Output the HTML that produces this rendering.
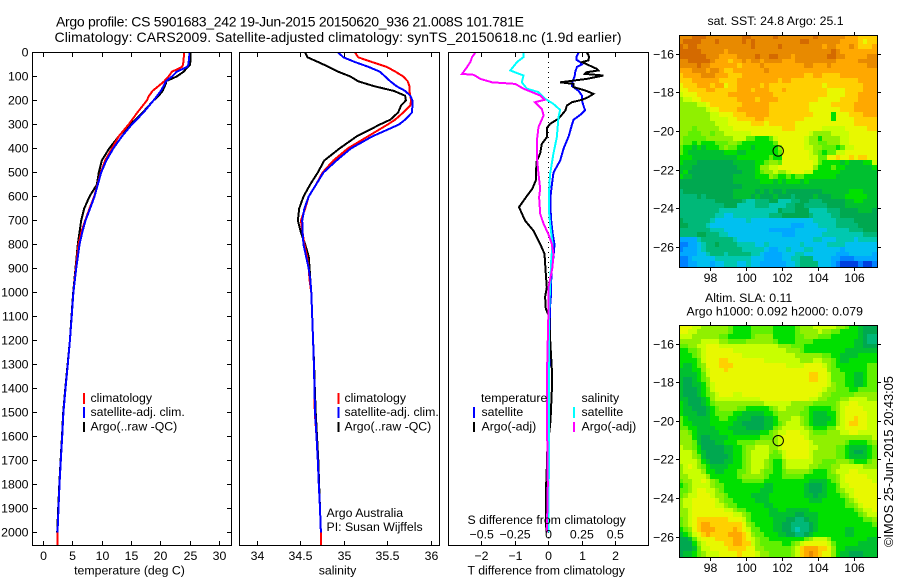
<!DOCTYPE html>
<html lang="en">
<head>
<meta charset="utf-8">
<title>Argo profile CS 5901683_242</title>
<style>
html,body{margin:0;padding:0;background:#fff;}
svg{display:block;}
text{font-family:"Liberation Sans",sans-serif;font-size:12.3px;fill:#000;}
.title{font-size:14px;}
.stamp{font-size:12.8px;}
</style>
</head>
<body>
<svg id="chart" xmlns="http://www.w3.org/2000/svg" width="900" height="580" viewBox="0 0 900 580">
  <rect x="0" y="0" width="900" height="580" fill="#fff"/>
  <text class="title" x="56" y="26.5" textLength="468" lengthAdjust="spacing">Argo profile: CS 5901683_242 19-Jun-2015 20150620_936 21.008S 101.781E</text>
  <text class="title" x="54.5" y="42" textLength="567" lengthAdjust="spacing">Climatology: CARS2009. Satellite-adjusted climatology: synTS_20150618.nc (1.9d earlier)</text>

  <g id="layer-maps"></g>
  <g id="layer-series"></g>
  <g id="layer-axes"></g>

  <g>
    <rect x="83" y="393" width="2" height="11" fill="#f00"/>
    <rect x="83" y="407" width="2" height="11" fill="#00f"/>
    <rect x="83" y="422" width="2" height="10" fill="#000"/>
    <text x="90.5" y="402">climatology</text>
    <text x="90.5" y="416">satellite-adj. clim.</text>
    <text x="90.5" y="430.5">Argo(..raw -QC)</text>
  </g>
  <g>
    <rect x="337.5" y="393" width="2" height="11" fill="#f00"/>
    <rect x="337.5" y="407" width="2" height="11" fill="#00f"/>
    <rect x="337.5" y="422" width="2" height="10" fill="#000"/>
    <text x="344.5" y="402">climatology</text>
    <text x="344.5" y="416">satellite-adj. clim.</text>
    <text x="344.5" y="430.5">Argo(..raw -QC)</text>
    <text x="326.5" y="517">Argo Australia</text>
    <text x="326.5" y="531">PI: Susan Wijffels</text>
  </g>
  <g>
    <text x="481" y="402">temperature</text>
    <text x="581.5" y="402">salinity</text>
    <rect x="473" y="407" width="2" height="11" fill="#00f"/>
    <rect x="473" y="422" width="2" height="10" fill="#000"/>
    <rect x="573" y="407" width="2" height="11" fill="#0ff"/>
    <rect x="573" y="422" width="2" height="10" fill="#f0f"/>
    <text x="481.5" y="416">satellite</text>
    <text x="481.5" y="430.5">Argo(-adj)</text>
    <text x="581.5" y="416">satellite</text>
    <text x="581.5" y="430.5">Argo(-adj)</text>
    <text x="467.5" y="524">S difference from climatology</text>
  </g>

  <text x="129.5" y="574.5" text-anchor="middle">temperature (deg C)</text>
  <text x="337.5" y="574.5" text-anchor="middle">salinity</text>
  <text x="467.5" y="574.5">T difference from climatology</text>

  <text x="707.5" y="25">sat. SST: 24.8 Argo: 25.1</text>
  <text x="705" y="302">Altim. SLA: 0.11</text>
  <text x="686.5" y="315.5">Argo h1000: 0.092 h2000: 0.079</text>
  <text class="stamp" transform="translate(893,547) rotate(-90)">©IMOS 25-Jun-2015 20:43:05</text>
</svg>

<script>
/* ---------- profile data ---------- */
const depthTicks = [0,100,200,300,400,500,600,700,800,900,1000,1100,1200,1300,1400,1500,1600,1700,1800,1900,2000];
const tempTicks = [0,5,10,15,20,25,30];
const salTicks = [34,34.5,35,35.5,36];
const salTickLabels = ['34','34.5','35','35.5','36'];
const diffTTicks = [-2,-1,0,1,2];
const diffTTickLabels = ['\u22122','\u22121','0','1','2'];
const diffSTicks = [-0.5,-0.25,0,0.25,0.5];
const diffSTickLabels = ['\u22120.5','\u22120.25','0','0.25','0.5'];
const lonTicks = [98,100,102,104,106];
const latTicks = [-16,-18,-20,-22,-24,-26];
const latTickLabels = ['\u221216','\u221218','\u221220','\u221222','\u221224','\u221226'];

const tempDepths = [0,50,60,80,100,120,130,160,180,200,250,300,350,400,450,500,550,600,650,700,750,800,900,1000,1100,1200,1300,1400,1500,1600,1700,1800,1900,2000,2054];
const tempClim = [23.98,23.8,23.6,21.9,21.3,20.57,20.1,18.6,18.0,17.6,16.0,14.5,12.8,11.65,10.5,9.77,9.2,8.64,7.84,7.1,6.42,5.97,5.5,5.1,4.8,4.5,4.15,3.75,3.4,3.18,2.95,2.73,2.56,2.39,2.39];
const tempSat = [24.9,24.7,24.5,22.7,21.9,20.85,20.7,20.0,19.4,18.75,17.05,15.05,13.35,11.9,10.7,9.83,9.26,8.7,7.95,7.16,6.6,6.14,5.57,5.1,4.8,4.5,4.15,3.75,3.4,3.18,2.95,2.73,2.56,2.39];
const tempArgo = [25.05,25.0,24.6,23.9,22.7,20.85,20.85,20.3,19.66,18.75,16.9,14.8,12.8,11.2,9.94,9.43,9.1,7.84,6.93,6.42,6.14,5.85,5.45,5.06,4.78,4.5,4.1,3.72,3.35,3.15,2.92,2.7,2.5,2.33];

const salDepths = [0,20,40,60,80,100,120,140,160,180,200,220,250,280,300,350,400,450,500,550,600,650,700,750,800,850,900,950,1000,1100,1200,1300,1400,1500,1600,1700,1800,1900,2000,2054];
const salClim = [35.125,35.16,35.32,35.49,35.59,35.68,35.73,35.75,35.75,35.76,35.77,35.76,35.68,35.585,35.5,35.27,35.04,34.875,34.75,34.675,34.59,34.55,34.5,34.52,34.54,34.57,34.59,34.6,34.62,34.63,34.64,34.65,34.657,34.66,34.68,34.695,34.706,34.72,34.73,34.73];
const salSat = [34.93,34.99,35.125,35.28,35.41,35.47,35.53,35.6,35.7,35.76,35.785,35.785,35.78,35.7,35.63,35.32,35.075,34.91,34.76,34.675,34.59,34.54,34.515,34.52,34.53,34.56,34.59,34.61,34.62,34.63,34.64,34.65,34.657,34.664,34.68,34.695,34.706,34.72,34.73];
const salArgo = [34.55,34.576,34.7,34.82,34.93,35.07,35.16,35.34,35.57,35.7,35.71,35.655,35.62,35.53,35.41,35.14,34.945,34.77,34.695,34.607,34.53,34.48,34.465,34.5,34.55,34.59,34.6,34.61,34.62,34.63,34.64,34.652,34.66,34.67,34.685,34.7,34.71,34.72,34.73];

const diffTSatDepths = [0,20,30,40,50,60,80,100,120,140,160,180,200,220,240,260,280,300,350,400,450,500,550,600,650,700,750,800,850,900,950,1000,1050,1100,1300,1400,1500,1600,1700,1800,1900,2000];
const diffTSat = [0.9,0.83,0.83,0.945,1.0,0.85,0.8,0.78,0.72,0.7,0.9,1.0,1.0,1.04,1.09,0.945,0.75,0.7,0.6,0.45,0.35,0.15,0.1,0.06,0.06,0.08,0.12,0.18,0.15,0.1,0.08,0.08,0.05,0.05,0.03,-0.05,-0.03,0,0,0,0,0];
const diffTArgoDepths = [0,10,20,33,40,68,75,82,89,96,110,124,131,144,158,172,186,197,207,221,242,276,297,314,353,381,422,450,506,533,567,589,644,700,742,797,839,922,978,1019,1068,1100,1200,1325,1400,1535,1680,1730,1840,1940,2000];
const diffTArgo = [1.14,1.19,1.21,1.19,1.0,1.44,1.49,1.14,1.09,1.64,1.14,0.35,0.75,0.75,1.09,1.34,1.19,1.0,0.7,0.55,0.5,0.3,0.05,-0.05,-0.05,-0.2,-0.25,-0.35,-0.38,-0.38,-0.48,-0.6,-0.88,-0.7,-0.45,-0.25,-0.12,-0.08,-0.05,-0.1,-0.08,0.02,0.05,0.1,0.1,0.06,-0.05,-0.05,-0.08,-0.08,-0.06];
const diffSSatDepths = [0,19,40,75,96,124,151,165,193,214,239,269,353,422,506,568,672,714,797,867,978,1068,1400,2000];
const diffSSat = [-0.187,-0.187,-0.236,-0.286,-0.187,-0.2,-0.162,-0.075,-0.025,0.037,0.087,0.075,0.062,0.037,0.012,0.005,0.005,0.012,0.03,0.02,0.012,0.005,0.005,0];
const diffSArgoDepths = [0,19,40,61,89,93,110,124,131,151,179,197,207,235,262,311,367,436,506,568,603,672,714,758,797,839,894,978,1068,1300,1400,1600,1800,2000];
const diffSArgo = [-0.547,-0.572,-0.585,-0.61,-0.647,-0.56,-0.51,-0.423,-0.249,-0.187,-0.062,-0.03,-0.1,-0.05,-0.037,-0.075,-0.087,-0.087,-0.075,-0.062,-0.07,-0.062,-0.037,0,0.025,0.037,0.03,0,0,-0.01,-0.012,-0.01,-0.005,-0.012];

/* ---------- map data: colour-scale levels per quarter-degree cell, north to south ---------- */
const levelColors = ['#0040e0','#0080ff','#00a8ff','#00c0f0','#00c8b0','#00b878','#00a850','#00c030','#00e000','#60f000','#90f000','#c8ff00','#e8f800','#ffd000','#ffa800','#e88a00','#d46a00'];
const mapLonStart = 96.27;
const mapLatStart = -15;
const mapCellDeg = 0.25;
const sstCells = [
[15,15,15,16,16,16,15,15,15,15,15,15,15,15,16,16,15,15,15,15,15,16,15,15,15,15,15,15,15,15,16,15,15,15,15,15,15,14,14,14,13,13,13,13],
[15,16,16,16,16,15,15,15,16,15,15,15,15,15,16,15,16,15,15,15,15,15,15,15,15,15,15,16,16,15,15,15,15,15,15,15,14,14,14,14,13,12,13,13],
[16,15,16,16,15,15,15,15,15,15,15,15,15,15,15,15,16,15,15,15,15,15,16,15,15,15,15,15,15,15,15,15,14,15,15,14,14,14,15,14,13,13,13,14],
[16,16,16,16,16,15,15,15,15,15,14,15,15,15,15,15,15,15,15,15,15,15,15,15,15,15,15,15,15,15,15,15,15,15,16,15,14,14,14,14,14,14,14,14],
[16,16,16,16,16,16,15,15,15,14,14,14,14,15,15,15,15,16,15,15,16,16,15,15,15,14,15,15,15,15,15,15,15,16,16,15,15,14,14,14,14,14,15,15],
[15,15,16,16,16,16,16,15,14,14,14,13,14,14,15,14,15,15,14,15,15,15,15,14,14,14,15,15,15,15,15,15,15,15,15,14,14,14,14,14,15,15,15,15],
[15,15,15,15,16,15,15,14,14,14,14,14,14,13,14,14,14,14,15,14,14,14,14,14,14,14,14,14,15,15,14,14,14,15,14,14,14,14,14,14,14,14,15,15],
[14,14,14,15,15,15,14,15,15,14,13,13,14,14,14,14,14,14,14,15,14,14,14,14,14,14,14,14,14,14,14,14,14,14,14,14,14,14,14,14,14,14,14,14],
[13,14,14,14,14,15,15,15,14,14,14,13,13,13,14,14,14,14,14,14,14,14,14,14,14,14,14,14,13,13,14,14,13,13,13,13,14,14,14,14,14,14,14,14],
[13,13,13,14,14,14,14,14,14,13,13,13,13,14,14,14,14,14,14,14,14,14,13,14,14,13,13,13,13,13,13,13,13,13,13,13,13,13,13,13,14,14,14,14],
[12,13,13,13,14,14,14,13,14,14,12,13,13,14,14,14,14,14,13,14,13,13,13,13,13,13,13,13,13,13,13,13,12,13,13,13,13,13,13,13,13,14,14,14],
[12,12,13,13,13,13,14,14,13,13,13,13,13,14,14,14,13,14,14,14,13,13,13,14,13,13,13,13,13,13,13,13,13,12,12,12,12,13,13,13,13,14,14,14],
[11,12,12,12,13,13,13,13,13,13,13,14,14,14,14,14,14,14,14,14,14,13,13,13,13,13,13,13,13,13,13,13,13,12,12,12,12,13,13,13,14,14,14,14],
[10,11,11,12,12,13,13,13,13,13,13,13,13,14,14,14,14,13,14,14,14,14,13,13,13,13,13,13,13,13,13,12,12,12,12,12,13,13,13,13,14,14,14,14],
[10,10,10,10,11,11,12,13,13,13,13,13,13,13,14,14,14,14,14,14,13,13,13,13,13,13,13,13,13,12,12,12,12,12,13,13,13,13,13,14,14,14,14,14],
[10,10,10,10,10,10,11,12,12,13,13,13,13,14,14,14,14,14,14,14,13,13,13,13,13,13,13,13,13,12,12,12,12,12,12,12,13,13,13,14,14,14,14,14],
[10,10,10,10,10,10,10,11,11,12,12,12,13,13,13,14,14,14,14,14,13,13,13,13,13,13,13,13,13,13,12,12,12,12,8,12,12,12,13,13,13,14,14,14],
[10,10,10,10,10,10,10,11,11,11,11,12,12,13,13,13,13,14,14,13,13,13,13,13,13,13,13,13,12,12,12,12,12,12,8,12,12,12,12,13,13,13,13,13],
[10,10,10,10,10,10,10,10,11,11,11,12,12,12,12,12,13,13,13,12,13,13,13,13,13,13,12,12,12,12,12,12,12,12,12,12,12,12,12,13,13,13,13,13],
[10,10,10,9,10,10,10,10,10,11,11,11,12,12,12,12,12,12,12,12,12,12,12,13,13,13,12,12,12,12,12,12,11,11,11,11,11,12,12,12,12,12,13,13],
[10,10,9,9,9,10,10,9,10,10,11,11,11,11,11,11,12,12,12,12,12,12,12,12,12,12,12,12,12,11,10,10,10,10,11,11,11,11,12,12,12,12,12,12],
[10,9,9,9,9,9,10,10,10,10,10,10,11,11,11,9,9,8,8,8,9,11,12,12,12,12,12,12,11,10,10,8,10,10,10,10,11,11,12,12,12,12,12,12],
[10,9,9,8,9,8,8,8,9,9,9,10,10,9,8,8,8,8,8,8,8,9,12,12,12,12,12,12,11,10,10,9,9,10,10,10,11,11,12,12,12,12,12,12],
[9,8,8,7,8,7,8,8,8,9,10,9,9,8,8,8,7,8,8,8,8,8,10,12,12,12,12,12,11,11,10,10,9,9,9,8,9,11,11,12,12,12,12,12],
[9,8,7,7,7,7,7,7,7,7,8,8,8,7,7,8,8,8,8,8,8,8,9,12,12,12,12,12,12,11,10,9,8,9,9,11,11,12,12,12,12,12,12,12],
[8,8,8,7,7,7,7,7,7,7,7,7,7,8,8,8,8,8,8,8,9,8,8,12,12,12,12,12,12,11,11,9,9,12,12,13,12,12,13,12,13,13,12,12],
[8,7,7,7,6,6,6,6,6,6,6,6,7,7,7,7,7,8,8,9,10,10,9,12,12,12,12,12,12,12,11,9,8,8,8,8,7,8,7,7,7,8,8,11],
[7,7,7,6,6,6,6,6,6,6,6,6,6,7,7,7,7,8,10,10,11,11,12,12,12,12,12,12,12,12,10,8,8,8,9,8,8,7,7,7,7,7,7,8],
[7,8,6,6,6,6,6,6,6,6,6,6,6,6,7,7,7,8,9,10,10,11,10,10,11,12,12,12,11,11,8,8,8,8,8,8,7,7,7,7,7,7,7,7],
[8,7,7,6,6,6,6,6,6,6,6,6,7,7,7,7,7,8,8,8,10,9,8,8,9,8,9,9,8,8,8,8,8,8,8,7,7,7,7,7,7,7,7,7],
[6,6,6,6,6,6,6,6,6,6,6,6,7,7,7,7,7,7,8,8,8,7,8,7,8,8,8,7,8,7,7,7,7,7,7,7,7,7,7,7,7,7,7,7],
[6,6,6,6,6,6,6,6,6,6,6,6,6,6,7,7,7,7,7,7,7,7,7,7,7,7,7,7,7,7,7,7,7,7,7,7,7,7,7,7,7,7,7,7],
[5,6,6,6,6,6,6,6,6,6,6,6,7,7,7,7,7,6,7,6,7,6,6,7,6,6,6,6,6,6,6,6,7,7,7,7,7,7,8,8,8,7,7,7],
[5,5,5,5,6,5,6,6,6,6,6,6,7,7,7,7,6,7,6,6,6,7,6,6,6,5,6,6,6,6,7,6,6,6,7,7,7,8,8,8,8,8,7,7],
[5,5,5,5,5,5,5,5,6,6,6,6,6,6,5,4,4,5,5,5,6,6,4,4,4,5,5,6,6,5,5,5,6,6,6,6,6,7,7,8,8,7,7,7],
[5,5,5,5,5,5,5,5,5,5,6,6,6,4,4,4,4,5,5,5,4,4,4,4,5,5,6,6,5,5,5,5,5,6,6,6,6,7,7,7,7,7,7,7],
[5,5,5,5,5,5,5,5,5,4,4,4,4,4,4,4,4,4,4,4,4,4,6,5,5,5,6,6,6,4,4,4,4,5,5,5,6,6,6,6,7,7,7,6],
[5,5,5,5,5,5,5,5,4,4,3,3,4,4,4,4,4,4,4,4,5,5,5,6,6,6,6,6,6,5,4,4,4,4,5,5,6,6,6,6,6,6,6,6],
[6,5,5,5,5,5,5,4,3,3,3,3,3,3,3,4,3,3,3,3,3,3,3,3,3,3,3,3,3,3,4,4,4,4,4,5,5,5,5,6,6,6,6,6],
[6,6,5,5,5,5,4,3,3,3,3,3,3,3,3,3,3,3,3,3,3,3,3,3,3,2,2,2,3,3,3,4,4,4,4,5,5,5,5,5,6,6,6,6],
[5,5,5,5,5,5,5,4,4,4,3,3,3,3,3,3,3,3,3,3,2,2,2,2,2,2,3,3,3,3,3,3,3,4,4,4,4,4,5,5,5,6,6,6],
[5,5,5,5,6,6,5,5,5,4,4,3,3,3,3,3,3,3,3,3,3,3,3,2,2,2,3,3,3,3,3,3,4,4,4,4,4,4,4,4,4,5,5,5],
[2,2,2,2,4,5,5,5,5,5,5,5,4,3,3,3,3,3,3,3,3,3,3,3,3,3,3,3,3,3,4,4,3,3,3,4,4,4,4,3,4,4,4,4],
[1,1,2,2,3,4,5,5,6,5,5,5,5,4,4,4,4,3,3,4,3,3,3,3,3,3,3,4,3,3,3,3,3,4,4,4,4,3,3,3,3,3,3,3],
[1,2,2,2,3,4,5,5,5,5,5,5,5,5,4,4,4,4,4,3,2,2,3,3,4,3,3,3,4,4,3,3,3,3,3,3,2,3,3,3,3,3,3,3],
[2,2,2,2,3,3,4,5,5,5,4,5,5,5,5,5,4,4,3,2,2,2,2,3,3,3,4,4,3,3,3,3,3,3,3,2,2,2,3,3,3,3,3,2],
[1,1,2,3,3,3,3,3,4,4,4,4,4,4,4,4,3,3,3,2,2,2,2,3,3,4,4,5,5,5,3,3,3,3,2,2,1,1,1,2,2,2,2,2],
[1,1,2,2,3,3,3,2,3,3,4,4,4,3,3,4,3,3,2,2,2,2,2,2,3,3,4,5,5,5,5,3,3,3,2,1,0,0,0,0,1,0,0,1]
];
const slaCells = [
[12,12,12,11,11,10,10,10,10,10,10,9,8,8,8,8,9,9,9,9,9,8,8,8,8,8,9,10,10,10,11,11,11,11,11,10,10,9,8,8,7,6,6,6],
[12,12,11,11,10,10,10,10,10,10,10,9,8,8,8,8,9,9,9,9,9,8,8,8,8,8,9,10,10,10,10,11,10,10,9,9,8,8,8,8,7,6,6,6],
[11,11,11,10,10,10,10,10,10,9,9,8,8,8,8,8,9,10,10,10,10,8,8,8,8,8,9,9,10,10,10,9,9,9,8,8,8,8,8,8,7,6,5,5],
[10,10,10,10,10,11,11,11,11,10,10,9,9,9,9,10,10,10,10,10,10,9,8,8,8,8,9,9,9,9,8,8,8,8,8,8,8,8,8,7,7,6,5,5],
[9,9,10,10,11,11,12,12,12,11,11,11,11,11,11,11,11,11,11,11,11,11,10,10,10,9,9,9,8,8,8,8,8,8,8,8,8,8,8,7,7,6,6,6],
[8,8,9,9,10,11,12,12,12,12,12,12,11,11,11,11,11,11,11,11,11,11,11,11,10,10,10,9,8,8,8,8,8,8,8,8,8,7,7,7,7,7,7,7],
[8,8,8,9,10,11,12,12,12,12,12,12,12,12,11,11,11,11,11,11,11,11,11,11,11,11,10,10,10,10,10,10,9,9,8,8,7,7,7,7,8,8,8,8],
[8,8,8,8,9,11,12,12,12,13,13,12,12,12,12,12,12,12,12,11,11,11,11,11,11,11,11,10,10,10,11,11,10,10,9,8,7,7,8,8,8,8,8,8],
[8,7,7,8,9,10,12,12,12,13,13,13,12,12,12,12,12,12,12,12,12,12,12,12,11,11,11,11,12,12,12,12,11,10,9,8,8,8,8,8,8,8,9,9],
[7,7,7,8,8,10,11,12,12,12,13,12,12,12,12,12,12,12,12,12,12,12,12,12,12,12,12,12,12,12,12,12,12,10,9,9,8,8,8,8,8,8,9,9],
[7,7,7,7,8,9,11,12,12,12,12,12,12,12,12,12,12,12,12,12,12,12,12,12,12,12,12,12,12,13,13,12,12,11,9,9,9,8,8,7,7,8,9,9],
[7,6,6,7,8,9,10,12,12,12,12,12,12,12,12,12,12,12,12,12,12,12,12,12,12,12,12,12,12,13,13,12,12,11,9,9,9,8,8,7,7,8,9,9],
[7,6,6,7,7,8,10,11,12,12,12,12,12,12,12,12,12,12,12,12,12,12,12,12,12,12,12,12,12,12,12,12,12,11,10,9,9,8,8,7,7,8,9,9],
[7,6,6,6,7,8,9,11,12,12,12,12,12,12,12,12,12,12,12,12,12,12,12,12,12,12,12,12,12,12,12,12,11,10,10,9,9,9,8,8,9,9,9,9],
[7,6,6,6,7,8,9,10,11,12,12,12,11,11,12,12,12,12,12,12,12,12,12,12,12,12,12,12,12,12,12,11,10,10,9,9,9,9,9,10,10,10,10,10],
[7,7,6,6,6,7,8,10,11,11,11,11,11,11,11,11,11,11,12,12,12,12,12,12,12,12,12,12,12,11,11,10,10,9,9,9,10,10,11,11,11,11,10,10],
[8,7,6,6,6,7,8,9,10,10,10,10,10,10,10,10,10,10,10,11,11,11,11,11,11,10,10,10,10,10,9,9,9,9,9,10,11,11,12,12,11,11,11,11],
[8,7,7,6,6,6,7,8,9,10,10,10,10,9,9,8,8,8,8,8,9,10,11,11,10,10,10,10,9,8,8,8,8,8,9,10,11,12,12,12,12,11,11,11],
[8,7,7,7,6,6,7,8,9,9,9,9,8,8,7,7,7,7,7,8,8,9,10,10,10,10,10,9,9,8,7,7,7,8,8,10,11,12,12,12,12,12,11,11],
[9,8,7,7,7,7,7,8,8,9,9,8,8,7,7,7,6,6,6,7,7,8,10,10,10,11,11,10,9,8,7,7,7,7,8,10,11,12,12,13,12,12,11,11],
[9,8,8,7,7,7,7,8,8,8,8,8,7,7,6,6,6,6,6,7,7,8,9,10,11,11,11,10,9,8,7,7,7,8,8,10,11,12,13,13,12,12,11,11],
[9,9,8,8,7,7,7,7,8,8,8,7,7,7,7,6,6,6,6,7,7,9,10,11,11,11,11,11,10,9,8,8,8,9,9,11,11,12,12,12,12,12,11,11],
[10,10,9,8,7,7,7,7,7,8,8,8,7,7,7,7,7,7,8,8,9,10,11,11,12,12,12,11,11,10,9,9,9,10,10,10,11,11,12,12,11,11,11,11],
[10,10,10,8,7,6,6,7,7,7,7,8,8,8,8,8,8,8,9,9,9,10,11,12,12,12,12,12,11,10,10,10,10,10,10,10,10,10,10,10,10,10,10,11],
[10,10,10,9,7,6,6,6,7,7,8,8,8,9,9,9,9,10,10,10,10,10,11,12,12,12,12,12,12,11,10,10,10,10,10,10,10,9,8,8,8,8,9,10],
[11,10,10,9,8,6,6,6,6,6,7,7,8,8,9,10,10,11,11,11,10,10,11,12,12,12,12,12,12,11,11,10,10,10,10,9,9,8,7,7,7,7,8,9],
[11,11,11,10,8,7,6,6,6,6,7,7,8,8,9,10,11,11,11,11,10,9,10,11,12,12,12,12,12,11,10,10,10,10,10,9,9,8,7,6,6,7,8,9],
[11,11,11,10,9,7,6,6,6,6,6,7,8,8,9,10,11,11,11,11,9,9,9,11,12,12,12,12,12,11,10,10,10,10,10,9,9,8,7,7,7,7,8,9],
[11,11,11,11,10,8,7,6,6,6,7,7,8,8,9,10,11,11,11,10,9,8,8,10,11,11,11,11,11,11,10,10,9,9,9,10,10,10,9,8,8,8,9,10],
[10,11,12,11,10,9,8,7,7,7,7,8,8,8,9,10,11,11,11,10,9,8,8,10,11,11,11,11,11,10,10,9,9,9,10,10,11,11,11,11,11,10,10,10],
[10,11,11,11,11,10,8,8,7,7,8,8,8,9,9,10,11,11,10,9,9,8,8,9,10,10,10,10,10,9,8,8,8,9,10,11,11,11,12,12,11,11,11,11],
[10,10,11,11,11,11,10,8,8,8,8,8,8,9,10,10,10,10,10,9,8,8,8,9,9,9,9,9,8,8,8,8,8,9,9,10,11,12,12,12,12,12,11,11],
[9,10,10,11,11,12,11,10,9,8,8,8,8,8,9,9,9,9,9,8,8,8,8,8,8,8,8,8,8,7,7,7,7,8,9,10,11,12,12,12,12,12,12,11],
[8,9,10,11,11,11,11,10,9,9,8,8,8,8,8,8,8,8,8,7,7,8,8,8,8,8,8,8,7,6,6,6,7,8,8,9,11,11,12,12,12,12,12,12],
[9,9,10,11,12,12,11,11,10,9,8,8,8,8,8,8,8,8,7,7,7,8,8,8,8,8,8,8,7,6,6,6,7,8,8,9,10,11,11,12,12,12,12,12],
[9,10,11,11,12,12,12,11,10,10,9,8,8,8,8,8,7,7,7,7,8,8,8,8,8,8,8,8,7,7,6,7,7,8,8,8,9,10,11,12,12,12,12,12],
[10,11,11,12,12,12,12,12,11,10,9,9,8,8,8,8,8,7,7,7,8,8,8,8,8,8,8,8,8,7,7,7,8,8,8,8,8,9,10,11,12,12,12,12],
[10,11,11,12,12,12,12,12,11,11,10,9,9,8,8,8,8,8,8,7,7,8,8,8,8,8,8,8,8,8,8,8,8,8,8,8,8,9,9,10,11,12,12,12],
[10,10,11,12,12,12,12,12,12,12,11,11,10,9,9,8,8,8,8,8,7,7,8,8,7,7,7,7,7,8,8,8,8,8,8,8,8,8,8,9,10,11,11,12],
[10,10,11,12,12,12,12,12,12,12,12,12,11,11,10,9,8,8,8,8,7,7,7,7,7,7,6,6,7,7,7,8,8,8,8,8,8,8,8,8,9,10,11,11],
[9,10,11,12,13,13,13,13,13,13,13,12,12,12,11,9,8,8,8,8,8,7,7,7,6,6,5,5,6,7,7,8,8,8,8,8,8,8,8,8,8,9,9,10],
[9,10,11,12,13,14,14,13,13,13,13,13,13,13,12,10,9,8,8,8,8,7,7,6,6,5,5,5,5,6,7,8,8,8,8,8,8,8,8,8,8,8,8,9],
[8,9,10,12,13,14,14,14,13,13,13,13,14,13,12,11,9,9,8,8,8,7,7,6,6,5,4,5,5,6,7,8,8,8,8,8,8,7,7,8,8,8,8,8],
[7,8,9,11,12,13,14,13,13,13,13,14,14,14,13,12,10,9,9,8,8,8,7,7,6,6,5,5,6,7,8,8,8,8,8,8,8,7,7,8,8,8,8,8],
[6,6,7,9,11,12,12,12,13,13,13,13,14,14,13,12,11,10,9,9,8,8,8,8,8,8,8,8,9,10,11,11,11,10,8,8,8,8,8,8,8,8,7,7],
[6,6,6,8,10,11,12,12,12,12,13,13,14,14,13,13,11,10,9,9,9,9,9,8,8,9,10,11,12,12,12,12,12,11,9,8,8,8,8,8,7,7,7,7],
[6,6,6,7,9,11,11,12,12,12,12,13,13,13,13,12,12,10,10,9,9,9,9,9,9,10,11,13,14,14,14,13,13,12,10,8,8,7,7,7,7,7,7,7],
[6,7,7,8,9,10,11,11,11,12,12,12,12,13,12,12,12,11,10,10,9,9,9,9,9,10,11,13,14,15,14,13,12,12,10,8,7,7,6,6,6,7,7,7]
];
const floatLon = 101.781;
const floatLat = -21.008;

/* ---------- drawing ---------- */
const NS = 'http://www.w3.org/2000/svg';
const layerMaps = document.getElementById('layer-maps');
const layerSeries = document.getElementById('layer-series');
const layerAxes = document.getElementById('layer-axes');

function make(tag, attrs, parent) {
  const el = document.createElementNS(NS, tag);
  for (const k in attrs) el.setAttribute(k, attrs[k]);
  parent.appendChild(el);
  return el;
}
const depthY = d => 52.5 + d * 0.24;
const tempX = v => 43.5 + v * 5.867;
const salX = v => 257.5 + (v - 34) * 86.8;
const diffTX = v => 548.5 + v * 33.5;
const diffSX = v => 548.5 + v * 133.6;

function drawLine(name, depths, values, xFn, color) {
  const pts = values.map((v, i) => xFn(v).toFixed(1) + ',' + depthY(depths[i]).toFixed(1)).join(' ');
  const el = make('polyline', {points: pts, fill: 'none', stroke: color, 'stroke-width': 2, 'stroke-linejoin': 'miter', 'shape-rendering': 'crispEdges'}, layerSeries);
  
  
}
function drawFrame(name, x0, y0, x1, y1) {
  const el = make('rect', {x: x0 + 0.5, y: y0 + 0.5, width: x1 - x0, height: y1 - y0, fill: 'none', stroke: '#000', 'stroke-width': 1, 'shape-rendering': 'crispEdges'}, layerAxes);
  
  
}
function drawTick(name, x1, y1, x2, y2) {
  const el = make('line', {x1: x1, y1: y1, x2: x2, y2: y2, stroke: '#000', 'stroke-width': 1, 'shape-rendering': 'crispEdges'}, layerAxes);
  
  
}
function drawLabel(name, x, y, str, anchor) {
  const el = make('text', {x: x, y: y, 'text-anchor': anchor}, layerAxes);
  el.textContent = str;
  
  
}

/* profile series */
drawLine('temperature-argo-line', tempDepths, tempArgo, tempX, '#000');
drawLine('temperature-climatology-line', tempDepths, tempClim, tempX, '#f00');
drawLine('temperature-satellite-line', tempDepths, tempSat, tempX, '#00f');
drawLine('salinity-argo-line', salDepths, salArgo, salX, '#000');
drawLine('salinity-climatology-line', salDepths, salClim, salX, '#f00');
drawLine('salinity-satellite-line', salDepths, salSat, salX, '#00f');

/* zero line in difference panel */
const zeroLine = make('line', {x1: 548.5, y1: 52, x2: 548.5, y2: 545, stroke: '#000', 'stroke-width': 1, 'stroke-dasharray': '1 4', 'shape-rendering': 'crispEdges'}, layerSeries);



drawLine('t-difference-satellite-line', diffTSatDepths, diffTSat, diffTX, '#00f');
drawLine('t-difference-argo-line', diffTArgoDepths, diffTArgo, diffTX, '#000');
drawLine('s-difference-satellite-line', diffSSatDepths, diffSSat, diffSX, '#0ff');
drawLine('s-difference-argo-line', diffSArgoDepths, diffSArgo, diffSX, '#f0f');

/* profile frames */
drawFrame('temperature-panel-frame', 32, 52, 231, 545);
drawFrame('salinity-panel-frame', 239, 52, 439, 545);
drawFrame('difference-panel-frame', 448, 52, 648, 545);

/* depth axis */
depthTicks.forEach(d => {
  const y = Math.floor(depthY(d)) + 0.5;
  drawTick('depth-tick-left', 32, y, 37, y);
  drawTick('depth-tick-right', 227, y, 232, y);
  drawLabel('depth-tick-label', 28.5, y + 4, String(d), 'end');
});
/* temperature axis */
tempTicks.forEach(v => {
  const x = Math.floor(tempX(v)) + 0.5;
  drawTick('temperature-tick-top', x, 52, x, 57);
  drawTick('temperature-tick-bottom', x, 541, x, 546);
  drawLabel('temperature-tick-label', x, 560, String(v), 'middle');
});
/* salinity axis */
salTicks.forEach((v, i) => {
  const x = Math.floor(salX(v)) + 0.5;
  drawTick('salinity-tick-top', x, 52, x, 57);
  drawTick('salinity-tick-bottom', x, 541, x, 546);
  drawLabel('salinity-tick-label', x, 560, salTickLabels[i], 'middle');
});
/* difference axes */
diffTTicks.forEach((v, i) => {
  const x = Math.floor(diffTX(v)) + 0.5;
  drawTick('t-difference-tick-top', x, 52, x, 57);
  drawTick('t-difference-tick-bottom', x, 541, x, 546);
  drawLabel('t-difference-tick-label', x, 560, diffTTickLabels[i], 'middle');
});
diffSTicks.forEach((v, i) => {
  drawLabel('s-difference-tick-label', diffSX(v), 538.5, diffSTickLabels[i], 'middle');
});

/* maps */
function drawMap(name, cells, left, top, right, bottom, latM16, latM26) {
  const lonScale = (854 - 710.3) / 8;
  const latScale = (latM26 - latM16) / 10;
  const lonX = lon => 710.3 + (lon - 98) * lonScale;
  const latY = lat => latM16 + (-16 - lat) * latScale;
  const clip = make('clipPath', {id: name + '-clip'}, layerMaps);
  make('rect', {x: left, y: top, width: right - left, height: bottom - top}, clip);
  const g = make('g', {'clip-path': 'url(#' + name + '-clip)', 'shape-rendering': 'crispEdges'}, layerMaps);
  
  
  cells.forEach((row, r) => {
    row.forEach((level, c) => {
      const lon0 = mapLonStart + c * mapCellDeg;
      const lat0 = mapLatStart - r * mapCellDeg;
      const x0 = Math.floor(lonX(lon0));
      const x1 = Math.ceil(lonX(lon0 + mapCellDeg));
      const y0 = Math.floor(latY(lat0));
      const y1 = Math.ceil(latY(lat0 - mapCellDeg));
      const cell = make('rect', {x: x0, y: y0, width: x1 - x0, height: y1 - y0, fill: levelColors[level]}, g);
      
      
    });
  });
  const marker = make('circle', {cx: lonX(floatLon), cy: latY(floatLat), r: 5.2, fill: 'none', stroke: '#000', 'stroke-width': 1}, layerMaps);
  
  
  drawFrame(name + '-frame', left, top, right, bottom);
  lonTicks.forEach(v => {
    const x = Math.floor(lonX(v)) + 0.5;
    drawTick(name + '-lon-tick-top', x, top - 3, x, top);
    drawTick(name + '-lon-tick-bottom', x, bottom, x, bottom + 4);
    drawLabel(name + '-lon-tick-label', x, bottom + 15, String(v), 'middle');
  });
  latTicks.forEach((v, i) => {
    const y = Math.floor(latY(v)) + 0.5;
    drawTick(name + '-lat-tick-left', left - 3, y, left, y);
    drawTick(name + '-lat-tick-right', right, y, right + 4, y);
    drawLabel(name + '-lat-tick-label', left - 5, y + 4, latTickLabels[i], 'end');
  });
}
drawMap('sst-map', sstCells, 679, 35, 877, 267, 54.3, 247.3);
drawMap('sla-map', slaCells, 679, 325, 877, 557, 344, 537);
</script>
</body>
</html>
